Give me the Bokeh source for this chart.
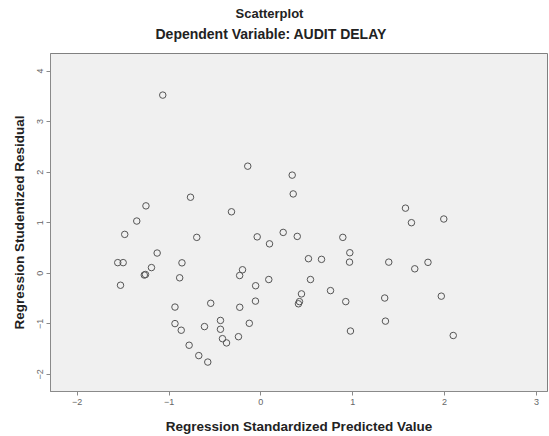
from bokeh.plotting import figure
from bokeh.models import Range1d, FixedTicker, Title
from bokeh.embed import file_html
from bokeh.resources import INLINE

# Data (standardized predicted value, studentized residual)
pred = [-1.068, -0.143, 0.341, 0.352, -0.766, -1.251, -0.320, -1.351, -1.482, -0.698,
        -0.040, 0.243, 0.396, 1.574, 1.639, 1.991, 0.892, 0.094, 0.968, 0.965,
        0.518, 0.660, -0.200, -0.231, 0.086, -0.057, 0.540, 0.758, 0.442, 0.420,
        0.409, -0.059, -0.230, 0.924, -0.126, 0.975, -0.244, -1.129, -1.558, -1.499,
        -0.859, -1.191, -1.269, -1.256, -0.884, -1.528, -0.935, -0.546, -0.935, -0.867,
        -0.614, -0.440, -0.440, -0.418, -0.374, -0.781, -0.676, -0.578, 1.392, 1.675,
        1.819, 1.348, 1.964, 1.356, 2.094]
resid = [3.524, 2.118, 1.941, 1.569, 1.504, 1.333, 1.216, 1.033, 0.769, 0.710,
         0.720, 0.808, 0.729, 1.288, 1.000, 1.073, 0.710, 0.582, 0.406, 0.220,
         0.288, 0.275, 0.069, -0.045, -0.124, -0.247, -0.124, -0.343, -0.408, -0.561,
         -0.604, -0.551, -0.673, -0.561, -0.990, -1.143, -1.255, 0.400, 0.210, 0.210,
         0.206, 0.112, -0.035, -0.025, -0.090, -0.237, -0.669, -0.594, -0.996, -1.127,
         -1.055, -0.933, -1.108, -1.294, -1.378, -1.424, -1.629, -1.757, 0.220, 0.088,
         0.216, -0.490, -0.453, -0.947, -1.231]

x_ticks = [-2, -1, 0, 1, 2, 3]
y_ticks = [-2, -1, 0, 1, 2, 3, 4]

title_main = "Scatterplot"
title_sub = "Dependent Variable: AUDIT DELAY"
x_label = "Regression Standardized Predicted Value"
y_label = "Regression Studentized Residual"

FONT = "Liberation Sans"

p = figure(width=549, height=436, output_backend="svg", toolbar_location=None,
           x_range=Range1d(-2.29, 3.12), y_range=Range1d(-2.339, 4.347),
           min_border_left=50, min_border_right=2, min_border_top=53, min_border_bottom=42)
p.title.visible = False
p.background_fill_color = "#f0f0f0"
p.border_fill_color = "white"
p.outline_line_color = "#808080"
p.outline_line_width = 1
p.grid.visible = False

for ax in (p.xaxis[0], p.yaxis[0]):
    ax.axis_line_color = "#8a8a8a"
    ax.major_tick_line_color = "#8a8a8a"
    ax.major_tick_out = 4
    ax.major_tick_in = 0
    ax.minor_tick_line_color = None
    ax.major_label_text_font = FONT
    ax.major_label_text_font_size = "9px"
    ax.major_label_text_color = "#666666"
    ax.major_label_standoff = 3
    ax.axis_label_text_font = FONT
    ax.axis_label_text_font_style = "bold"
    ax.axis_label_text_font_size = "13.5px"
    ax.axis_label_text_color = "#222222"

p.xaxis[0].ticker = FixedTicker(ticks=x_ticks)
p.yaxis[0].ticker = FixedTicker(ticks=y_ticks)
p.yaxis[0].major_label_orientation = "vertical"
p.xaxis[0].axis_label = x_label
p.yaxis[0].axis_label = y_label
p.xaxis[0].axis_label_standoff = 11
p.yaxis[0].axis_label_standoff = 8

p.scatter(pred, resid, marker="circle", size=6.5, fill_color=None,
          line_color="#555555", line_width=1)

tcommon = dict(text_font=FONT, text_font_style="bold", text_color="#222222",
               align="left")
p.add_layout(Title(text=title_sub, text_font_size="14px", offset=105, standoff=19,
                   vertical_align="top", **tcommon), "above")
p.add_layout(Title(text=title_main, text_font_size="13px", offset=185, standoff=-8,
                   **tcommon), "above")

open("out.html", "w").write(file_html(p, INLINE))
